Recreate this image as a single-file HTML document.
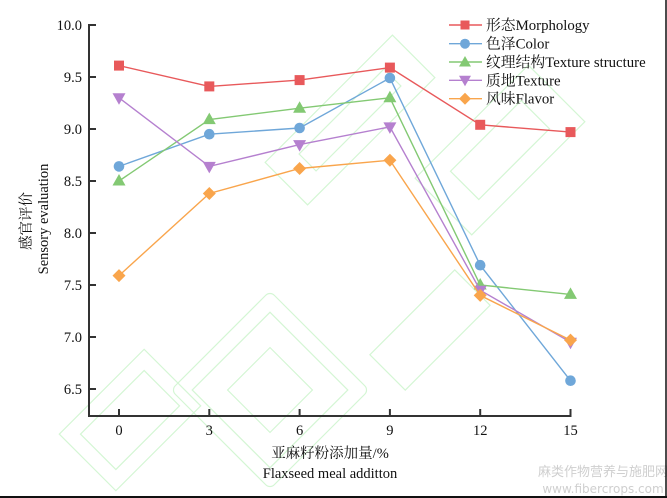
<!DOCTYPE html>
<html>
<head>
<meta charset="utf-8">
<style>
  html,body{margin:0;padding:0;background:#fff;}
  svg{display:block;}
  .t{font-family:"Liberation Serif","Noto Serif CJK SC",serif;fill:#111;}
</style>
</head>
<body>
<svg width="667" height="498" viewBox="0 0 667 498" xmlns="http://www.w3.org/2000/svg">
  <rect width="667" height="498" fill="#fff"/>

  <!-- watermark (light green outlines) -->
  <g fill="none" stroke="#d4f6d4" stroke-width="1.2">
    <g transform="translate(270,390) rotate(-45)">
      <rect x="-70" y="-70" width="140" height="140" rx="6"/>
      <rect x="-55" y="-55" width="110" height="110"/>
      <rect x="-30" y="-30" width="60" height="60"/>
    </g>
    <g transform="translate(130,420) rotate(-45)">
      <rect x="-60" y="-40" width="120" height="80"/>
      <rect x="-45" y="-25" width="90" height="50"/>
    </g>
    <g transform="translate(350,120) rotate(-45)">
      <rect x="-90" y="-30" width="180" height="60"/>
      <rect x="-60" y="-12" width="120" height="24"/>
    </g>
    <g transform="translate(500,150) rotate(-45)">
      <rect x="-80" y="-40" width="160" height="80"/>
      <rect x="-50" y="-20" width="100" height="40"/>
    </g>
    <g transform="translate(430,330) rotate(-45)">
      <rect x="-60" y="-25" width="120" height="50"/>
    </g>
  </g>

  <!-- bottom-right site watermark -->
  <text x="603" y="476" text-anchor="middle" font-family="'Noto Sans CJK SC','DejaVu Sans',sans-serif" font-size="13" fill="#cfcfcf">麻类作物营养与施肥网</text>
  <text x="603" y="493" text-anchor="middle" font-family="'DejaVu Sans','Liberation Sans',sans-serif" font-size="12" fill="#cfcfcf">www.fibercrops.com</text>

  <!-- frame lines -->
  <line x1="0" y1="497" x2="667" y2="497" stroke="#111" stroke-width="2"/>
  <line x1="666" y1="0" x2="666" y2="498" stroke="#111" stroke-width="1.5"/>

  <!-- axes -->
  <g stroke="#333" stroke-width="2" fill="none">
    <line x1="89" y1="24" x2="89" y2="417"/>
    <line x1="88" y1="416" x2="571.5" y2="416"/>
    <line x1="89" y1="25" x2="96" y2="25"/>
    <line x1="89" y1="77" x2="96" y2="77"/>
    <line x1="89" y1="129" x2="96" y2="129"/>
    <line x1="89" y1="181" x2="96" y2="181"/>
    <line x1="89" y1="233" x2="96" y2="233"/>
    <line x1="89" y1="285" x2="96" y2="285"/>
    <line x1="89" y1="337" x2="96" y2="337"/>
    <line x1="89" y1="389" x2="96" y2="389"/>
    <line x1="119" y1="416" x2="119" y2="409"/>
    <line x1="209.3" y1="416" x2="209.3" y2="409"/>
    <line x1="299.6" y1="416" x2="299.6" y2="409"/>
    <line x1="389.9" y1="416" x2="389.9" y2="409"/>
    <line x1="480.2" y1="416" x2="480.2" y2="409"/>
    <line x1="570.5" y1="416" x2="570.5" y2="409"/>
  </g>

  <!-- y tick labels -->
  <g class="t" font-size="14.5" text-anchor="end">
    <text x="82" y="30">10.0</text>
    <text x="82" y="82">9.5</text>
    <text x="82" y="134">9.0</text>
    <text x="82" y="186">8.5</text>
    <text x="82" y="238">8.0</text>
    <text x="82" y="290">7.5</text>
    <text x="82" y="342">7.0</text>
    <text x="82" y="394">6.5</text>
  </g>
  <!-- x tick labels -->
  <g class="t" font-size="14.5" text-anchor="middle">
    <text x="119" y="435">0</text>
    <text x="209.3" y="435">3</text>
    <text x="299.6" y="435">6</text>
    <text x="389.9" y="435">9</text>
    <text x="480.2" y="435">12</text>
    <text x="570.5" y="435">15</text>
  </g>

  <!-- axis titles -->
  <text class="t" x="330" y="458" font-size="14.5" text-anchor="middle">亚麻籽粉添加量/%</text>
  <text class="t" x="330" y="478" font-size="14.5" text-anchor="middle">Flaxseed meal additton</text>
  <text class="t" transform="translate(31,221) rotate(-90)" font-size="14.5" text-anchor="middle">感官评价</text>
  <text class="t" transform="translate(48,219) rotate(-90)" font-size="14.5" text-anchor="middle">Sensory evaluation</text>

  <!-- Morphology -->
  <polyline fill="none" stroke="#e8595b" stroke-width="1.4" points="119,65.6 209.3,86.4 299.6,80.1 389.9,67.6 480.2,124.8 570.5,132.1"/>
  <g fill="#e8595b">
    <rect x="114" y="60.6" width="10" height="10"/>
    <rect x="204.3" y="81.4" width="10" height="10"/>
    <rect x="294.6" y="75.1" width="10" height="10"/>
    <rect x="384.9" y="62.6" width="10" height="10"/>
    <rect x="475.2" y="119.8" width="10" height="10"/>
    <rect x="565.5" y="127.1" width="10" height="10"/>
  </g>

  <!-- Color -->
  <polyline fill="none" stroke="#6fa7d9" stroke-width="1.4" points="119,166.4 209.3,134.2 299.6,128 389.9,78 480.2,265.2 570.5,380.7"/>
  <g fill="#6fa7d9">
    <circle cx="119" cy="166.4" r="5.3"/>
    <circle cx="209.3" cy="134.2" r="5.3"/>
    <circle cx="299.6" cy="128" r="5.3"/>
    <circle cx="389.9" cy="78" r="5.3"/>
    <circle cx="480.2" cy="265.2" r="5.3"/>
    <circle cx="570.5" cy="380.7" r="5.3"/>
  </g>

  <!-- Texture structure -->
  <polyline fill="none" stroke="#83c973" stroke-width="1.4" points="119,181 209.3,119.6 299.6,108.2 389.9,97.8 480.2,285 570.5,294.4"/>
  <g fill="#83c973">
    <polygon points="119,174 112.5,185.5 125.5,185.5"/>
    <polygon points="209.3,112.6 202.8,124.1 215.8,124.1"/>
    <polygon points="299.6,101.2 293.1,112.7 306.1,112.7"/>
    <polygon points="389.9,90.8 383.4,102.3 396.4,102.3"/>
    <polygon points="480.2,278 473.7,289.5 486.7,289.5"/>
    <polygon points="570.5,287.4 564,298.9 577,298.9"/>
  </g>

  <!-- Texture -->
  <polyline fill="none" stroke="#b580cf" stroke-width="1.4" points="119,97.8 209.3,166.4 299.6,144.6 389.9,126.9 480.2,290.2 570.5,342.2"/>
  <g fill="#b580cf">
    <polygon points="119,104.8 112.5,93.3 125.5,93.3"/>
    <polygon points="209.3,173.4 202.8,161.9 215.8,161.9"/>
    <polygon points="299.6,151.6 293.1,140.1 306.1,140.1"/>
    <polygon points="389.9,133.9 383.4,122.4 396.4,122.4"/>
    <polygon points="480.2,297.2 473.7,285.7 486.7,285.7"/>
    <polygon points="570.5,349.2 564,337.7 577,337.7"/>
  </g>

  <!-- Flavor -->
  <polyline fill="none" stroke="#f9a54c" stroke-width="1.4" points="119,275.6 209.3,193.5 299.6,168.5 389.9,160.2 480.2,295.4 570.5,340.1"/>
  <g fill="#f9a54c">
    <polygon points="119,269.1 125.5,275.6 119,282.1 112.5,275.6"/>
    <polygon points="209.3,187 215.8,193.5 209.3,200 202.8,193.5"/>
    <polygon points="299.6,162 306.1,168.5 299.6,175 293.1,168.5"/>
    <polygon points="389.9,153.7 396.4,160.2 389.9,166.7 383.4,160.2"/>
    <polygon points="480.2,288.9 486.7,295.4 480.2,301.9 473.7,295.4"/>
    <polygon points="570.5,333.6 577,340.1 570.5,346.6 564,340.1"/>
  </g>

  <!-- legend -->
  <g stroke-width="1.4">
    <line x1="449" y1="25" x2="482" y2="25" stroke="#e8595b"/>
    <rect x="460.5" y="20.5" width="9" height="9" fill="#e8595b" stroke="none"/>
    <line x1="449" y1="43.7" x2="482" y2="43.7" stroke="#6fa7d9"/>
    <circle cx="465" cy="43.7" r="5" fill="#6fa7d9" stroke="none"/>
    <line x1="449" y1="62" x2="482" y2="62" stroke="#83c973"/>
    <polygon points="465,56 459,66.5 471,66.5" fill="#83c973" stroke="none"/>
    <line x1="449" y1="80.3" x2="482" y2="80.3" stroke="#b580cf"/>
    <polygon points="465,86.3 459,75.8 471,75.8" fill="#b580cf" stroke="none"/>
    <line x1="449" y1="98.7" x2="482" y2="98.7" stroke="#f9a54c"/>
    <polygon points="465,92.7 471,98.7 465,104.7 459,98.7" fill="#f9a54c" stroke="none"/>
  </g>
  <g class="t" font-size="14.8">
    <text x="486" y="30">形态Morphology</text>
    <text x="486" y="48.7">色泽Color</text>
    <text x="486" y="67">纹理结构Texture structure</text>
    <text x="486" y="85.3">质地Texture</text>
    <text x="486" y="103.7">风味Flavor</text>
  </g>
</svg>
</body>
</html>
